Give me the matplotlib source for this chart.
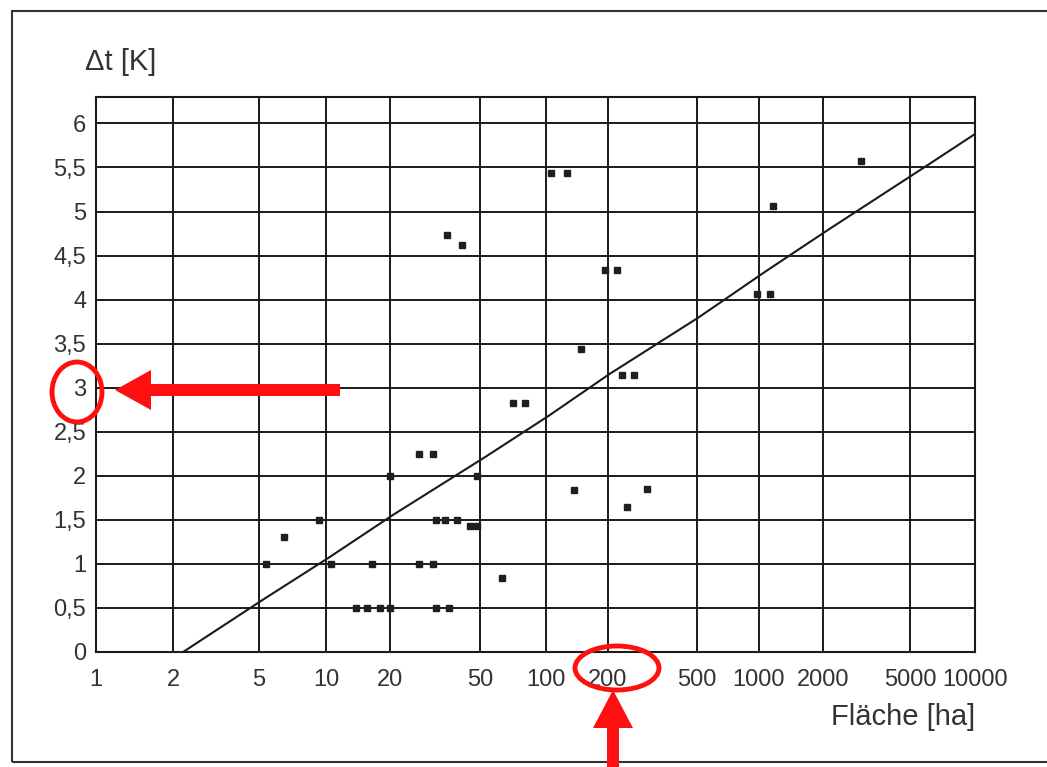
import matplotlib.pyplot as plt
import numpy as np
from matplotlib.patches import FancyArrow, Ellipse, Rectangle
from matplotlib.ticker import FixedLocator, FuncFormatter, NullLocator

plt.rcParams['font.family'] = ['Liberation Sans', 'DejaVu Sans']

# ----- Data -----
area_ha = [5.4, 6.5, 9.3, 10.6, 13.8, 15.6, 17.9, 20, 16.5, 20,
           27, 31, 27, 31, 32, 35, 39.5, 32, 36.5, 45,
           48.5, 48.5, 35.7, 41.7, 63, 71, 80, 106, 126, 136,
           148, 193, 219, 231, 261, 243, 299, 980, 1127, 1164, 2985]
delta_t = [1.0, 1.3, 1.5, 1.0, 0.5, 0.5, 0.5, 0.5, 1.0, 2.0,
           2.25, 2.25, 1.0, 1.0, 1.5, 1.5, 1.5, 0.5, 0.5, 1.43,
           1.43, 2.0, 4.73, 4.62, 0.84, 2.83, 2.83, 5.44, 5.44, 1.84,
           3.44, 4.34, 4.34, 3.15, 3.15, 1.65, 1.85, 4.06, 4.06, 5.06, 5.57]

# regression line: dt = fit_a + fit_b * log10(area)
fit_a = -0.56
fit_b = 1.61

x_ticks = [1, 2, 5, 10, 20, 50, 100, 200, 500, 1000, 2000, 5000, 10000]
y_ticks = [0, 0.5, 1, 1.5, 2, 2.5, 3, 3.5, 4, 4.5, 5, 5.5, 6]

# the printed log axis is drawn by hand, gridlines are not evenly spaced
grid_pos = [0, 77, 163, 230, 294, 384, 450, 512, 601, 663, 727, 814, 879]
lt = np.log10(x_ticks)


def fwd(x):
    return np.interp(np.log10(np.clip(x, 1e-3, None)), lt, grid_pos,
                     left=None, right=None)


def inv(p):
    return 10 ** np.interp(p, grid_pos, lt)


# ----- Figure -----
fig = plt.figure(figsize=(10.47, 7.67), dpi=100)
ax = fig.add_axes([96 / 1047, 1 - 652 / 767, (975 - 96) / 1047, (652 - 97) / 767])

ax.set_xscale('function', functions=(fwd, inv))
ax.set_xlim(1, 10000)
ax.set_ylim(0, 6.3)

ax.xaxis.set_major_locator(FixedLocator(x_ticks))
ax.xaxis.set_minor_locator(NullLocator())
ax.xaxis.set_major_formatter(FuncFormatter(lambda v, p: "%d" % round(v)))
ax.yaxis.set_major_locator(FixedLocator(y_ticks))
ax.yaxis.set_major_formatter(FuncFormatter(lambda v, p: ("%g" % v).replace(".", ",")))

ax.grid(True, color="#1a1a1a", lw=1.4)
ax.set_axisbelow(True)
for s in ax.spines.values():
    s.set_color("#1a1a1a")
    s.set_linewidth(1.5)
ax.tick_params(length=0, labelsize=17, labelcolor="#333333")
ax.tick_params(axis="x", pad=12)
ax.tick_params(axis="y", pad=7)

# regression line
xl = np.logspace(0, 4, 400)
ax.plot(xl, fit_a + fit_b * np.log10(xl), color="#1a1a1a", lw=1.5, zorder=3)

# measurements
ax.plot(area_ha, delta_t, ls="none", marker="s", ms=5, color="#1f1f1f", zorder=4)

fig.text(85 / 1047, 1 - 62 / 767, "Δt [K]", fontsize=21, color="#333333", va="center")
fig.text(975 / 1047, 1 - 717 / 767, "Fläche [ha]", fontsize=21, color="#333333",
         va="center", ha="right")

# frame around the scanned figure
fig.patches.append(Rectangle((12 / 1047, 1 - 762 / 767), 1.0, (762 - 11) / 767,
                             transform=fig.transFigure, fill=False,
                             edgecolor="#333333", lw=1.5))

# ----- red annotations -----
red = "#ff1010"
tr = fig.dpi_scale_trans
fig.patches.append(Ellipse((0.77, (767 - 392) / 100), 0.50, 0.60, transform=tr,
                           fill=False, edgecolor=red, lw=3.5))
fig.patches.append(FancyArrow(3.40, (767 - 390) / 100, -2.25, 0, width=0.12,
                              head_width=0.40, head_length=0.36,
                              length_includes_head=True, transform=tr,
                              color=red, lw=0))
fig.patches.append(Ellipse((6.17, (767 - 668) / 100), 0.84, 0.44, transform=tr,
                           fill=False, edgecolor=red, lw=3.5))
fig.patches.append(FancyArrow(6.13, -0.05, 0, 0.82, width=0.12,
                              head_width=0.40, head_length=0.38,
                              length_includes_head=True, transform=tr,
                              color=red, lw=0))

fig.savefig("out.png", dpi=100)
